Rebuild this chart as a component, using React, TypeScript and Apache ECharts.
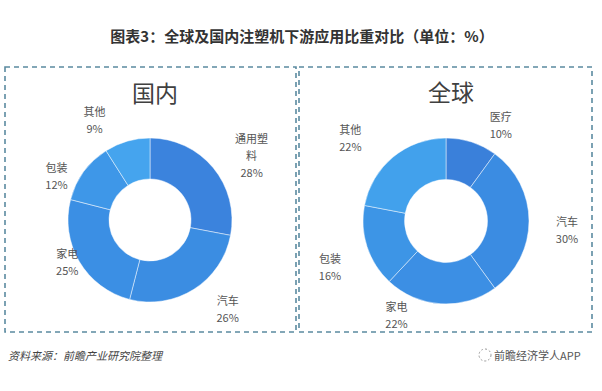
import React, { useEffect, useRef } from "react";
import * as echarts from "echarts";

const chartTitle = "图表3：全球及国内注塑机下游应用比重对比（单位：%）";
const domesticTitle = "国内";
const globalTitle = "全球";
const domesticNames = ["通用塑料", "汽车", "家电", "包装", "其他"];
const domesticValues = [28, 26, 25, 12, 9];
const globalNames = ["医疗", "汽车", "家电", "包装", "其他"];
const globalValues = [10, 30, 22, 16, 22];
const sourceText = "资料来源：前瞻产业研究院整理";
const brandText = "前瞻经济学人APP";

const domesticColors = ["#3b83dd", "#3b8de2", "#3b8fe4", "#3e97e8", "#45a4ee"];
const globalColors = ["#3a80da", "#3b8ce2", "#3c8fe4", "#3d95e6", "#42a1ec"];
// label nudges (presentation only, best-fit style placement)
const domesticNudges = [[0, 0], [0, 2], [28, -10], [12, 15], [-4, -3]];
const globalNudges = [[0, 1], [-5, 8], [-20, -9], [5, 14], [-7, -4]];

const FONT = "'Noto Sans CJK SC', 'Noto Sans', sans-serif";

function wrapName(n: string) {
  return n.length > 3 ? n.slice(0, 3) + "\n" + n.slice(3) : n;
}

function makePie(names: string[], values: number[], colors: string[], nudges: number[][], center: number[], radius: number[]) {
  return {
    type: "pie",
    center,
    radius,
    startAngle: 90,
    clockwise: true,
    avoidLabelOverlap: false,
    silent: true,
    data: names.map((n, i) => ({ name: n, value: values[i], itemStyle: { color: colors[i] } })),
    itemStyle: { borderColor: "rgba(255,255,255,0.6)", borderWidth: 0.8 },
    label: {
      show: true,
      position: "outside",
      formatter: (p: any) => wrapName(p.name) + "\n" + p.value + "%",
      fontFamily: FONT,
      fontSize: 11,
      lineHeight: 17,
      color: "#555555",
    },
    labelLine: { show: false, length: 20, length2: 18 },
    labelLayout: (p: any) => ({ align: "center", dx: nudges[p.dataIndex][0], dy: nudges[p.dataIndex][1] }),
  };
}

export default function App() {
  const ref = useRef<HTMLDivElement>(null);
  useEffect(() => {
    document.body.style.margin = "0";
    const chart = echarts.init(ref.current!, null, { renderer: "svg" });
    chart.setOption({
      animation: false,
      backgroundColor: "#ffffff",
      title: [
        {
          text: chartTitle,
          left: 297,
          top: 23,
          textAlign: "center",
          textStyle: { fontFamily: FONT, fontSize: 15, fontWeight: "bold", color: "#333333" },
        },
        {
          text: domesticTitle,
          left: 150,
          top: 75,
          textAlign: "center",
          textStyle: { fontFamily: FONT, fontSize: 23, fontWeight: "normal", color: "#404040" },
        },
        {
          text: globalTitle,
          left: 446,
          top: 74,
          textAlign: "center",
          textStyle: { fontFamily: FONT, fontSize: 23, fontWeight: "normal", color: "#404040" },
        },
      ],
      graphic: [
        {
          type: "rect",
          shape: { x: 5, y: 67, width: 291, height: 265 },
          style: { fill: "none", stroke: "#5b8aa0", lineWidth: 1.6, lineDash: [5, 4] },
        },
        {
          type: "rect",
          shape: { x: 299, y: 67, width: 293, height: 265 },
          style: { fill: "none", stroke: "#5b8aa0", lineWidth: 1.6, lineDash: [5, 4] },
        },
        {
          type: "text",
          x: 8,
          y: 355,
          style: {
            text: sourceText,
            fontFamily: FONT,
            fontSize: 11,
            fontStyle: "italic",
            fill: "#444444",
            verticalAlign: "middle",
          },
        },
        {
          type: "circle",
          shape: { cx: 485, cy: 355, r: 6 },
          style: { fill: "none", stroke: "#999999", lineWidth: 1, lineDash: [2, 2] },
        },
        {
          type: "text",
          x: 494,
          y: 355,
          style: {
            text: brandText,
            fontFamily: FONT,
            fontSize: 11,
            fill: "#555555",
            verticalAlign: "middle",
          },
        },
      ],
      series: [
        makePie(domesticNames, domesticValues, domesticColors, domesticNudges, [150, 220], [41, 82]),
        makePie(globalNames, globalValues, globalColors, globalNudges, [446, 221], [41.5, 83]),
      ],
    });
    return () => chart.dispose();
  }, []);
  return <div ref={ref} style={{ width: 602, height: 391 }} />;
}
